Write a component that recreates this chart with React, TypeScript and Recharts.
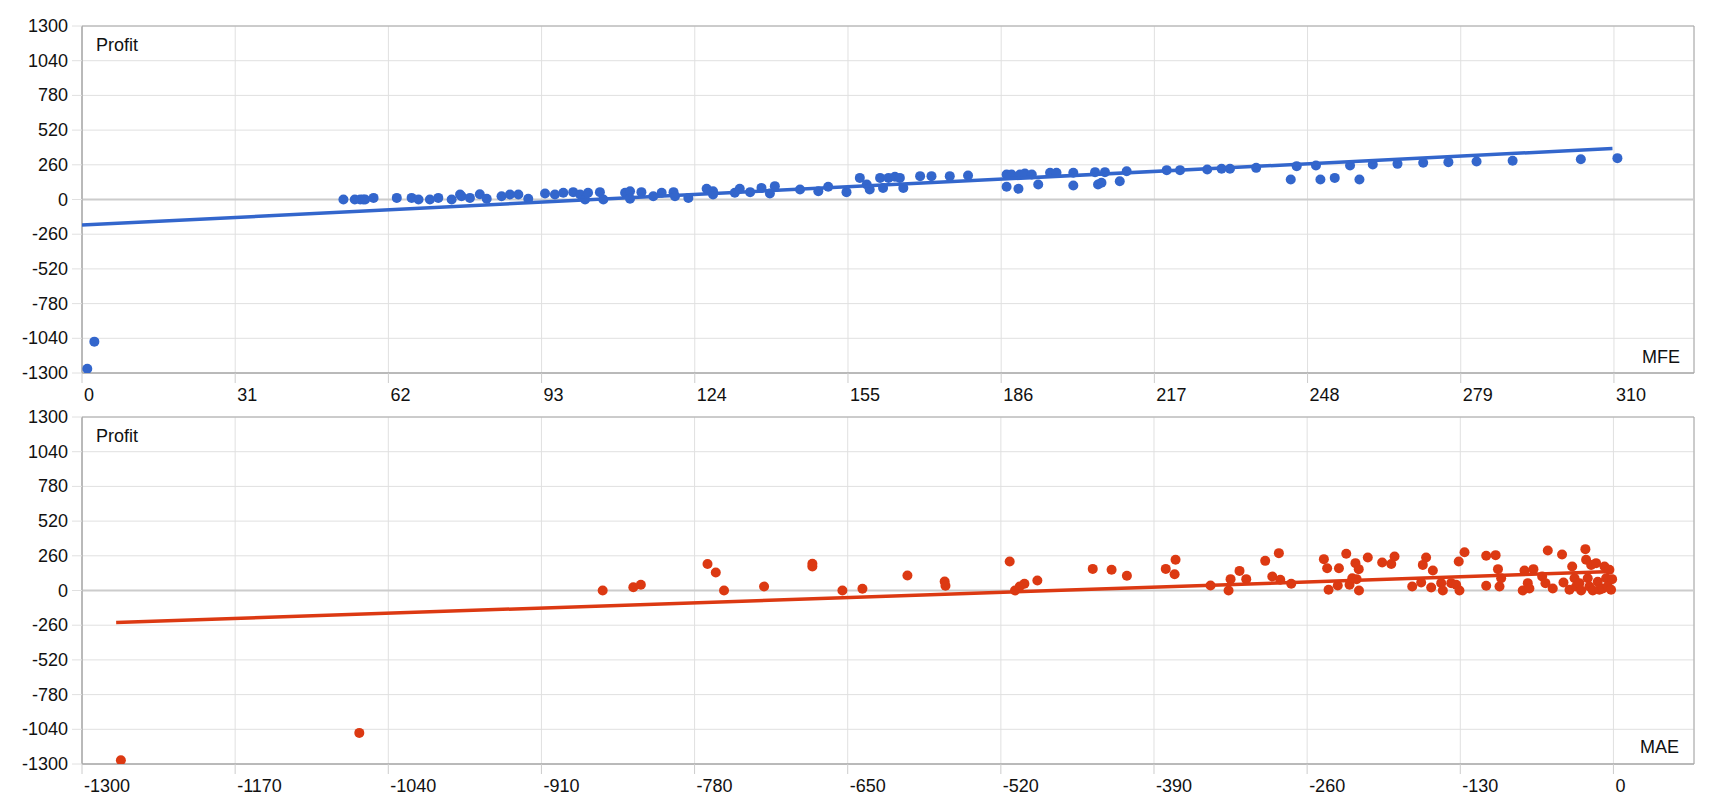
import React from 'react';
import { ScatterChart, Scatter, XAxis, YAxis, CartesianGrid, ReferenceLine, ReferenceArea } from 'recharts';

const profitTicks = [-1300, -1040, -780, -520, -260, 0, 260, 520, 780, 1040, 1300];
const mfeTicks = [0, 31, 62, 93, 124, 155, 186, 217, 248, 279, 310];
const maeTicks = [-1300, -1170, -1040, -910, -780, -650, -520, -390, -260, -130, 0];

const mfeValues = [1.07, 2.5, 52.9, 55.2, 56.3, 56.9, 57.3, 59, 63.7, 66.7, 68.1, 70.4, 72.1, 74.8, 76.5, 76.8, 78.5, 80.5, 81.9, 84.9, 86.6, 88.3, 90.3, 93.7, 95.7, 97.4, 99.4, 100.8, 101.8, 102.4, 104.8, 105.5, 109.9, 110.9, 110.9, 113.2, 115.6, 117.3, 119.7, 120, 122.7, 126.4, 127.7, 127.7, 132.1, 133.1,
  135.2, 137.5, 139.2, 140.2, 145.3, 149, 151, 154.7, 157.4, 158.8, 159.4, 161.5, 162.1, 163.2, 164.5, 165.5, 166.2, 169.6, 171.9, 175.6, 179.3, 187.1, 187.1, 188.1, 189.5, 189.8, 190.8, 192.2, 193.5, 195.9, 197.2, 200.6, 200.6, 205, 205.6, 206.3, 207, 210, 211.4, 219.5, 222.2,
  227.7, 230.6, 232.3, 237.6, 244.6, 245.8, 249.7, 250.6, 253.5, 256.6, 258.5, 261.2, 266.2, 271.4, 276.5, 282.2, 289.5, 303.3, 310.7];
const mfeProfits = [-1268, -1065, 0, 0, 0, 0, 0, 12, 12, 12, 0, 0, 12, 0, 37, 25, 12, 40, 5, 25, 37, 37, 5, 45, 37, 50, 55, 37, 0, 50, 55, 0, 50, 62, 5, 55, 25, 50, 55, 25, 12, 80, 62, 37, 50, 80,
  55, 87, 45, 100, 75, 62, 95, 55, 162, 112, 75, 162, 87, 162, 170, 162, 87, 175, 175, 175, 180, 187, 95, 187, 80, 187, 195, 187, 112, 200, 200, 200, 105, 205, 112, 125, 205, 137, 212, 220, 220,
  225, 230, 230, 237, 150, 250, 255, 150, 162, 255, 150, 262, 267, 275, 280, 285, 290, 302, 310];

const maeValues = [-1267, -1064.6, -858, -832, -825.6, -769, -762, -755, -721, -680, -680, -654.5, -637.5, -599.3, -567.7, -567, -512.5, -508, -504, -500, -489,
  -442, -426, -413, -380, -371.7, -372.5, -342, -326.7, -325, -317.4, -311.7, -295.6, -284, -289.6, -282.8, -273.5, -245.8, -243, -241.8, -234, -233, -226.8, -224, -221.7, -219, -218, -216.2, -216, -208.5, -196.3, -188.6, -185.8,
  -170.8, -163.2, -161.8, -159, -154.7, -153.3, -146.2, -144.8, -137.7, -133.5, -130.7, -131.3, -126.4, -108, -108, -100, -98, -96.7, -95.3, -77, -75.5, -72.7, -71.3, -67.9, -60.5, -57.7, -55.7, -51.5, -43.6, -42.4, -37.3, -35, -33, -31.7, -28.9, -27.4, -23.8, -23.2, -21.8, -20.4, -18.9, -17.5, -14.7, -13.3, -11.9, -9, -7.6, -6.2, -4.8, -3.4, -2, -1.1];
const maeProfits = [-1272, -1067, 0, 25, 43, 198, 135, 0, 30, 200, 180, 0, 13, 112, 67, 35, 217, 0, 30, 50, 75,
  162, 155, 110, 162, 230, 122, 37, 0, 85, 147, 85, 222, 280, 105, 80, 50, 235, 167, 5, 37, 167, 275, 43, 92, 205, 85, 160, 0, 247, 210, 198, 255,
  30, 60, 192, 247, 22, 150, 55, 0, 55, 43, 0, 217, 287, 260, 35, 265, 160, 30, 92, 0, 150, 55, 15, 160, 105, 55, 300, 15, 270, 60, 5, 180, 92, 30, 55, 0, 310, 230, 92, 30, 192, 0, 205, 65, 5, 15, 180, 92, 30, 155, 5, 85];

const mfeTrendX = [0, 309.7];
const mfeTrendProfit = [-192, 382];
const maeTrendX = [-1271, -1];
const maeTrendProfit = [-240, 142];

const FONT = 'Arial, "Liberation Sans", sans-serif';

const toPoints = (xs: number[], ys: number[]) => xs.map((x, i) => ({ x, y: ys[i] }));

const XTick = (props: any) => {
  const { x, y, payload } = props;
  return (
    <text x={x + 2} y={y + 16} fontSize={18} fill="#111" textAnchor="start" fontFamily={FONT}>
      {payload.value}
    </text>
  );
};

const YTick = (props: any) => {
  const { y, payload } = props;
  return (
    <text x={68} y={y + 6} fontSize={18} fill="#111" textAnchor="end" fontFamily={FONT}>
      {payload.value}
    </text>
  );
};

type PanelProps = {
  points: { x: number; y: number }[];
  trend: { x: number; y: number }[];
  color: string;
  xTicks: number[];
  xDomain: [number, number];
  height: number;
  marginTop: number;
  xAxisHeight: number;
};

const Panel = ({ points, trend, color, xTicks, xDomain, height, marginTop, xAxisHeight }: PanelProps) => (
  <ScatterChart width={1720} height={height} margin={{ top: marginTop, right: 26, bottom: 0, left: 0 }}>
    <CartesianGrid stroke="#e0e0e0" strokeWidth={1} />
    <XAxis
      type="number"
      dataKey="x"
      domain={xDomain}
      ticks={xTicks}
      interval={0}
      allowDataOverflow
      height={xAxisHeight}
      tickSize={10}
      tickLine={{ stroke: '#cccccc' }}
      axisLine={{ stroke: '#a8a8a8' }}
      tick={<XTick />}
    />
    <YAxis
      type="number"
      dataKey="y"
      domain={[-1300, 1300]}
      ticks={profitTicks}
      interval={0}
      allowDataOverflow
      width={82}
      tickSize={10}
      tickLine={{ stroke: '#e0e0e0' }}
      axisLine={{ stroke: '#a8a8a8' }}
      tick={<YTick />}
    />
    <ReferenceLine y={0} stroke="#cccccc" strokeWidth={2} />
    <ReferenceArea x1={xDomain[0]} x2={xDomain[1]} y1={-1300} y2={1300} fill="none" stroke="#a8a8a8" strokeWidth={1} fillOpacity={0} />
    <Scatter
      data={points}
      fill={color}
      isAnimationActive={false}
      shape={(p: any) => <circle cx={p.cx} cy={p.cy} r={5} fill={color} />}
    />
    <Scatter
      data={trend}
      fill={color}
      isAnimationActive={false}
      line={{ stroke: color, strokeWidth: 3.5 }}
      shape={() => <g />}
    />
  </ScatterChart>
);

export default function App() {
  return (
    <div style={{ position: 'absolute', left: 0, top: 0, width: 1720, height: 800, background: '#fff', fontFamily: FONT }}>
      <Panel
        points={toPoints(mfeValues, mfeProfits)}
        trend={toPoints(mfeTrendX, mfeTrendProfit)}
        color="#3366cc"
        xTicks={mfeTicks}
        xDomain={[0, 326.2]}
        height={408}
        marginTop={26}
        xAxisHeight={35}
      />
      <Panel
        points={toPoints(maeValues, maeProfits)}
        trend={toPoints(maeTrendX, maeTrendProfit)}
        color="#dc3912"
        xTicks={maeTicks}
        xDomain={[-1300, 68.4]}
        height={392}
        marginTop={9}
        xAxisHeight={36}
      />
      <svg width={1720} height={800} style={{ position: 'absolute', left: 0, top: 0, pointerEvents: 'none' }}>
        <text x={96} y={51} fontSize={18} fill="#111" fontFamily={FONT}>Profit</text>
        <text x={1680} y={363} fontSize={18} fill="#111" fontFamily={FONT} textAnchor="end">MFE</text>
        <text x={96} y={442} fontSize={18} fill="#111" fontFamily={FONT}>Profit</text>
        <text x={1679} y={753} fontSize={18} fill="#111" fontFamily={FONT} textAnchor="end">MAE</text>
      </svg>
    </div>
  );
}
